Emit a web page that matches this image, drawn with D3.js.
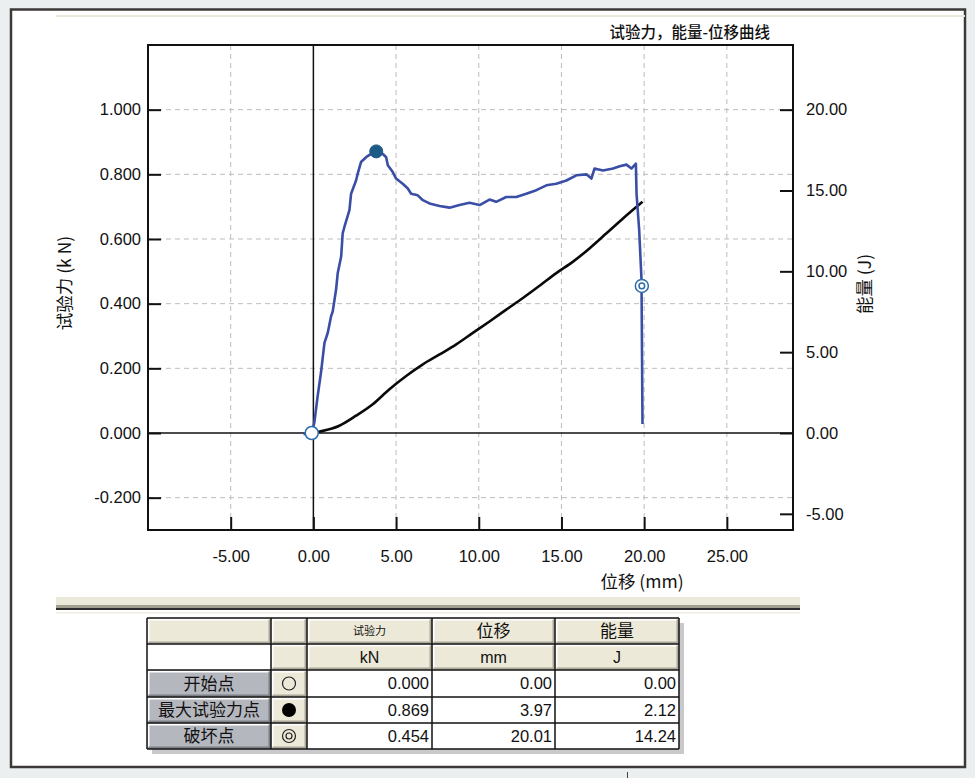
<!DOCTYPE html>
<html><head><meta charset="utf-8">
<script src="https://cdn.jsdelivr.net/npm/d3@7/dist/d3.min.js"></script>
<style>
html,body{margin:0;padding:0;background:#eceff0;}
svg{display:block;}
</style></head>
<body>
<script>
// ---------- data ----------
const xTicks = [-5, 0, 5, 10, 15, 20, 25];
const yLeftTicks = [-0.2, 0, 0.2, 0.4, 0.6, 0.8, 1.0];
const yRightTicks = [-5, 0, 5, 10, 15, 20];
// force curve: [displacement mm, force kN]
const forceX = [-0.6,-0.3,-0.08,0.06,0.26,0.46,0.67,0.87,1.07,1.17,1.37,1.47,1.68,1.77,1.88,2.18,2.28,2.58,2.68,2.88,3.19,3.49,3.79,4.2,4.4,4.5,4.8,5.0,5.4,5.71,5.91,6.31,6.62,7.02,7.63,8.23,8.84,9.44,10.05,10.65,11.05,11.66,12.27,12.87,13.48,14.09,14.69,15.3,15.9,16.51,16.81,17.0,17.51,18.12,18.52,18.93,19.23,19.5,19.54,19.7,19.84,19.9];
const forceY = [-0.004,0.0,0.002,0.033,0.115,0.187,0.279,0.31,0.361,0.376,0.443,0.494,0.546,0.617,0.638,0.689,0.74,0.781,0.802,0.838,0.853,0.863,0.872,0.863,0.853,0.828,0.807,0.787,0.771,0.756,0.74,0.735,0.72,0.71,0.702,0.697,0.705,0.712,0.705,0.722,0.715,0.73,0.73,0.74,0.751,0.766,0.771,0.781,0.797,0.80,0.787,0.818,0.812,0.818,0.825,0.83,0.818,0.833,0.74,0.627,0.474,0.028];
// energy curve: [displacement mm, energy J]
const energyX = [0,0.36,1.57,2.58,3.59,4.6,5.61,6.62,7.63,8.64,9.64,10.65,11.66,12.67,13.68,14.69,15.7,16.71,17.72,18.72,19.9];
const energyY = [0,0.08,0.45,1.07,1.78,2.71,3.53,4.25,4.86,5.48,6.19,6.9,7.63,8.35,9.11,9.89,10.6,11.43,12.35,13.27,14.3];
// marker positions as drawn on the chart [mm, kN]
const markerX = [-0.1, 3.8, 19.86];
const markerY = [0.0, 0.871, 0.455];
const markerKind = ["open", "filled", "double"];
// table
const rowLabels = ["开始点", "最大试验力点", "破坏点"];
const colHeaders = ["试验力", "位移", "能量"];
const colUnits = ["kN", "mm", "J"];
const forceVals = ["0.000", "0.869", "0.454"];
const dispVals = ["0.00", "3.97", "20.01"];
const energyVals = ["0.00", "2.12", "14.24"];

// ---------- drawing ----------
const W = 975, H = 778;
const svg = d3.select("body").append("svg").attr("width", W).attr("height", H);
const FONT = "'Liberation Sans', Arial, sans-serif";
const CJK = "'Noto Sans CJK SC', sans-serif";

// panel
svg.append("rect").attr("x",0).attr("y",0).attr("width",W).attr("height",H).attr("fill","#eceff0");
svg.append("rect").attr("x",11).attr("y",9.5).attr("width",954).attr("height",757.5)
  .attr("fill","#fff").attr("stroke","#3d3939").attr("stroke-width",2.5);
svg.append("rect").attr("x",56).attr("y",15).attr("width",909).attr("height",2).attr("fill","#e9e7d7");
// bottom band
svg.append("rect").attr("x",56).attr("y",597).attr("width",744).attr("height",8).attr("fill","#ebe9d9");
svg.append("rect").attr("x",56).attr("y",605).attr("width",744).attr("height",3).attr("fill","#a09f8f");
svg.append("rect").attr("x",56).attr("y",608).attr("width",744).attr("height",2).attr("fill","#2e2c2c");
svg.append("rect").attr("x",56).attr("y",612).attr("width",744).attr("height",1.5).attr("fill","#efeee2");
svg.append("line").attr("x1",627.5).attr("x2",627.5).attr("y1",772).attr("y2",778).attr("stroke","#444").attr("stroke-width",1);

const L = 148, R = 793, T = 45, B = 530;
const x = d3.scaleLinear().domain([-10, 29]).range([L, R]);
const yL = d3.scaleLinear().domain([-0.3, 1.2]).range([B, T]);
const yR = d3.scaleLinear().domain([-6, 24]).range([B, T]);

const g = svg.append("g");
// grid
g.selectAll(".gx").data(xTicks.filter(d => d !== 0)).join("line")
  .attr("x1", d => x(d)).attr("x2", d => x(d)).attr("y1", T).attr("y2", B)
  .attr("stroke", "#bdbdbd").attr("stroke-width", 1).attr("stroke-dasharray", "5,4");
g.selectAll(".gy").data(yLeftTicks.filter(d => d !== 0)).join("line")
  .attr("x1", L).attr("x2", R).attr("y1", d => yL(d)).attr("y2", d => yL(d))
  .attr("stroke", "#bdbdbd").attr("stroke-width", 1).attr("stroke-dasharray", "5,4");
// zero lines
g.append("line").attr("x1", x(0)).attr("x2", x(0)).attr("y1", T).attr("y2", B).attr("stroke", "#111").attr("stroke-width", 1.5);
g.append("line").attr("x1", L).attr("x2", R).attr("y1", yL(0)).attr("y2", yL(0)).attr("stroke", "#111").attr("stroke-width", 1.5);

// axes (ticks inside)
const axB = d3.axisBottom(x).tickValues(xTicks).tickFormat(d3.format(".2f")).tickSizeInner(-13).tickSizeOuter(0).tickPadding(20);
const axL = d3.axisLeft(yL).tickValues(yLeftTicks).tickFormat(d3.format(".3f")).tickSizeInner(-13).tickSizeOuter(0).tickPadding(7);
const axR = d3.axisRight(yR).tickValues(yRightTicks).tickFormat(d3.format(".2f")).tickSizeInner(-13).tickSizeOuter(0).tickPadding(13);
function styleAxis(sel){
  sel.select(".domain").remove();
  sel.selectAll(".tick line").attr("stroke","#111").attr("stroke-width",2);
  sel.selectAll(".tick text").attr("fill","#111").style("font-family",FONT).style("font-size","16.5px");
}
svg.append("g").attr("transform",`translate(0,${B})`).call(axB).call(styleAxis);
svg.append("g").attr("transform",`translate(${L},0)`).call(axL).call(styleAxis);
svg.append("g").attr("transform",`translate(${R},0)`).call(axR).call(styleAxis);
svg.selectAll(".tick text").text(function(){ return this.textContent.replace("−","-"); });
// frame
svg.append("rect").attr("x",L).attr("y",T).attr("width",R-L).attr("height",B-T)
  .attr("fill","none").attr("stroke","#111").attr("stroke-width",2);

// curves
const forceData = forceX.map((d,i)=>[d, forceY[i]]);
const energyData = energyX.map((d,i)=>[d, energyY[i]]);
g.append("path").datum(energyData)
  .attr("d", d3.line().x(d=>x(d[0])).y(d=>yR(d[1])).curve(d3.curveMonotoneX))
  .attr("fill","none").attr("stroke","#0a0a0a").attr("stroke-width",2.6);
g.append("path").datum(forceData)
  .attr("d", d3.line().x(d=>x(d[0])).y(d=>yL(d[1])))
  .attr("fill","none").attr("stroke","#3a4ea6").attr("stroke-width",2.6).attr("stroke-linejoin","round");

// markers
markerX.forEach((mx,i)=>{
  const cx = x(mx), cy = yL(markerY[i]);
  const k = markerKind[i];
  if (k === "open") {
    g.append("circle").attr("cx",cx).attr("cy",cy).attr("r",6.5).attr("fill","#fff").attr("stroke","#2d6cad").attr("stroke-width",1.5);
  } else if (k === "filled") {
    g.append("circle").attr("cx",cx).attr("cy",cy).attr("r",6.5).attr("fill","#1c5a88").attr("stroke","#1c5a88").attr("stroke-width",1);
  } else {
    g.append("circle").attr("cx",cx).attr("cy",cy).attr("r",6.5).attr("fill","#fff").attr("stroke","#2d6cad").attr("stroke-width",1.5);
    g.append("circle").attr("cx",cx).attr("cy",cy).attr("r",2.8).attr("fill","#fff").attr("stroke","#2d6cad").attr("stroke-width",1.5);
  }
});

// titles
svg.append("text").attr("x",770).attr("y",38).attr("text-anchor","end")
  .style("font-family",CJK).style("font-size","15.5px").style("font-weight","500").attr("fill","#111")
  .text("试验力，能量-位移曲线");
svg.append("text").attr("transform","translate(71,283) rotate(-90)").attr("text-anchor","middle")
  .style("font-family",CJK).style("font-size","17.5px").attr("fill","#111").text("试验力 (k N)");
svg.append("text").attr("transform","translate(871,284) rotate(-90)").attr("text-anchor","middle")
  .style("font-family",CJK).style("font-size","17.5px").attr("fill","#111").text("能量 (J)");
svg.append("text").attr("x",642).attr("y",588).attr("text-anchor","middle")
  .style("font-family",CJK).style("font-size","17.5px").attr("fill","#111").text("位移 (mm)");

// ---------- table ----------
const colX = [147, 271, 307, 432, 555, 679];
const rowY = [618, 644, 670, 697, 723, 749];
const tg = svg.append("g");
tg.append("rect").attr("x",colX[0]+5).attr("y",rowY[0]+5).attr("width",colX[5]-colX[0]).attr("height",rowY[5]-rowY[0]).attr("fill","#c9c9cb");
function cell(c, r, fill, bevel){
  const x0 = colX[c], x1 = colX[c+1], y0 = rowY[r], y1 = rowY[r+1];
  tg.append("rect").attr("x",x0).attr("y",y0).attr("width",x1-x0).attr("height",y1-y0).attr("fill",fill);
  if (bevel) {
    tg.append("path").attr("d",`M${x0+1.5},${y1-1.5}V${y0+1.5}H${x1-1.5}`).attr("fill","none").attr("stroke","#fff").attr("stroke-width",2);
    tg.append("path").attr("d",`M${x0+1.5},${y1-1.5}H${x1-1.5}V${y0+1.5}`).attr("fill","none").attr("stroke",bevel).attr("stroke-width",2);
  }
}
const beige = "#ece9d8", gray = "#b5b7be";
cell(0,0,beige,"#aca899"); cell(1,0,beige,"#aca899");
cell(0,1,"#fff",null); cell(1,1,beige,"#aca899");
for (let c=2;c<5;c++){ cell(c,0,beige,"#aca899"); cell(c,1,beige,"#aca899"); }
for (let r=0;r<3;r++){
  cell(0,r+2,gray,"#7d7f86");
  cell(1,r+2,beige,"#aca899");
  for (let c=2;c<5;c++) cell(c,r+2,"#fff",null);
}
colX.forEach(cx=>tg.append("line").attr("x1",cx).attr("x2",cx).attr("y1",rowY[0]).attr("y2",rowY[5]).attr("stroke","#111").attr("stroke-width",1.5));
rowY.forEach(cy=>tg.append("line").attr("x1",colX[0]).attr("x2",colX[5]).attr("y1",cy).attr("y2",cy).attr("stroke","#111").attr("stroke-width",1.5));

function mid(a,b){return (a+b)/2;}
colHeaders.forEach((h,i)=>{
  tg.append("text").attr("x",mid(colX[i+2],colX[i+3])).attr("y",mid(rowY[0],rowY[1])).attr("dy","0.36em")
    .attr("text-anchor","middle").style("font-family",CJK).style("font-size", i===0?"11px":"17px").attr("fill","#111").text(h);
});
colUnits.forEach((h,i)=>{
  tg.append("text").attr("x",mid(colX[i+2],colX[i+3])).attr("y",mid(rowY[1],rowY[2])).attr("dy","0.36em")
    .attr("text-anchor","middle").style("font-family",FONT).style("font-size","16px").attr("fill","#111").text(h);
});
rowLabels.forEach((h,r)=>{
  tg.append("text").attr("x",mid(colX[0],colX[1])).attr("y",mid(rowY[r+2],rowY[r+3])).attr("dy","0.36em")
    .attr("text-anchor","middle").style("font-family",CJK).style("font-size","17px").attr("fill","#111").text(h);
});
markerKind.forEach((k,r)=>{
  const cx = mid(colX[1],colX[2]), cy = mid(rowY[r+2],rowY[r+3]);
  if (k==="open") tg.append("circle").attr("cx",cx).attr("cy",cy).attr("r",6.5).attr("fill","none").attr("stroke","#222").attr("stroke-width",1.2);
  else if (k==="filled") tg.append("circle").attr("cx",cx).attr("cy",cy).attr("r",7).attr("fill","#000");
  else { tg.append("circle").attr("cx",cx).attr("cy",cy).attr("r",6.5).attr("fill","none").attr("stroke","#222").attr("stroke-width",1.2);
         tg.append("circle").attr("cx",cx).attr("cy",cy).attr("r",3).attr("fill","none").attr("stroke","#222").attr("stroke-width",1.2); }
});
[forceVals, dispVals, energyVals].forEach((vals,c)=>{
  vals.forEach((v,r)=>{
    tg.append("text").attr("x",colX[c+3]-3).attr("y",mid(rowY[r+2],rowY[r+3])).attr("dy","0.36em")
      .attr("text-anchor","end").style("font-family",FONT).style("font-size","16.5px").attr("fill","#111").text(v);
  });
});
</script>
</body></html>
